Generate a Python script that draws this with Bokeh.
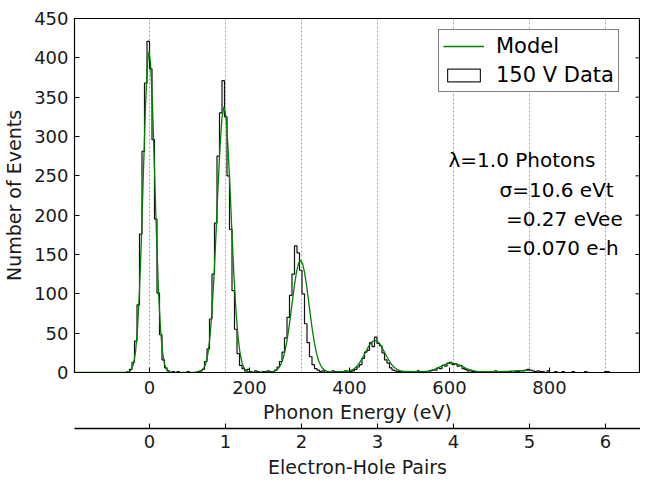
import numpy as np
from bokeh.plotting import figure
from bokeh.models import Range1d, LinearAxis, FixedTicker, Legend, LegendItem, ColumnDataSource, Title
from bokeh.embed import file_html
from bokeh.resources import INLINE
from bokeh.core.properties import value

# ---------------- data ----------------
EV_PER_EH = 152.0                      # phonon eV per electron-hole pair (150 V bias)
X_RANGE = (-150, 982)
Y_RANGE = (0, 450)
PHONON_TICKS = [0, 200, 400, 600, 800]
EH_TICKS = [0, 1, 2, 3, 4, 5, 6]
Y_TICKS = [0, 50, 100, 150, 200, 250, 300, 350, 400, 450]

# "150 V Data" histogram: 5 eV bins starting at -50 eV
HIST_START = -50.0
BIN_WIDTH = 5.0
HIST_COUNTS = [
    # -50 .. 40
    0, 1, 4, 13, 40, 86, 176, 281, 368, 421, 386, 296, 195, 101, 48, 16, 6, 2, 0,
    # 45 .. 95
    1, 0, 1, 0, 0, 0, 1, 0, 0, 0, 1,
    # 100 .. 200
    2, 4, 14, 30, 68, 125, 190, 275, 330, 371, 325, 250, 182, 104, 55, 24, 9, 5, 2, 4, 1,
    # 205 .. 240
    0, 2, 1, 0, 1, 1, 2, 1,
    # 245 .. 350
    1, 3, 7, 14, 26, 44, 70, 98, 125, 161, 152, 130, 100, 62, 38, 20, 10, 5, 3, 1, 2, 0,
    # 355 .. 395
    1, 0, 2, 1, 0, 1, 1, 2, 0,
    # 400 .. 500
    1, 2, 4, 7, 10, 18, 26, 28, 38, 33, 45, 37, 34, 25, 16, 12, 6, 3, 2, 1, 1,
    # 505 .. 545
    0, 1, 0, 0, 1, 0, 2, 0, 1,
    # 550 .. 650
    1, 0, 2, 3, 3, 6, 5, 9, 8, 12, 13, 10, 11, 8, 9, 5, 4, 2, 2, 1, 1,
    # 655 .. 730
    0, 1, 0, 0, 1, 0, 0, 2, 0, 0, 1, 0, 1, 1, 0, 1,
    # 735 .. 785
    1, 2, 2, 3, 4, 3, 2, 1, 2, 1, 1,
    # 790 .. 925
    0, 2, 0, 0, 1, 0, 0, 1, 0, 0, 0, 1, 0, 0, 0, 0, 1, 0, 0, 0, 0, 0, 0, 0, 1, 1, 0, 0,
]

# "Model" curve
MODEL_X = [
    -150, -44, -40, -36, -32, -28, -24, -20, -16, -12, -8, -4, -1, 2, 6, 10, 14, 18, 22, 26, 30, 34, 38, 42,
    50, 90,
    97, 101, 105, 109, 113, 117, 121, 125, 129, 133, 137, 141, 145, 149, 153, 157, 161, 165, 169, 173, 177,
    181, 185, 189, 193, 197, 201,
    210, 240,
    246, 250, 254, 258, 262, 266, 270, 274, 278, 282, 286, 290, 294, 298, 302, 306, 310, 314, 318, 322, 326,
    330, 334, 338, 342, 346, 350, 354, 358,
    375, 392,
    396, 401, 406, 411, 416, 421, 426, 431, 436, 441, 446, 451, 456, 461, 466, 471, 476, 481, 486, 491, 496,
    501, 506,
    525, 546,
    550, 556, 562, 568, 574, 580, 586, 592, 598, 604, 610, 616, 622, 628, 634, 640, 646, 652, 658,
    675, 700, 720, 740, 760,
]
MODEL_Y = [
    0, 0.4, 1.3, 4.0, 10.8, 25.9, 55.2, 104.2, 174.2, 258.2, 339.0, 394.4, 408, 394.4, 339.0, 258.2, 174.2,
    104.2, 55.2, 25.9, 10.8, 4.0, 1.3, 0.4,
    0.2, 0.3,
    0.35, 0.95, 2.4, 5.7, 12.4, 24.8, 45.7, 77.8, 121.8, 175.9, 234.1, 287.1, 324.5, 338, 324.5, 287.1, 234.1,
    175.9, 121.8, 77.8, 45.7, 24.8, 12.4, 5.7, 2.4, 0.95, 0.5,
    0.5, 0.9,
    1.1, 1.8, 3.1, 5.5, 9.4, 15.6, 24.6, 37.1, 52.9, 71.6, 91.7, 111.2, 127.6, 138.6, 142.5, 138.6, 127.6,
    111.2, 91.7, 71.6, 52.9, 37.1, 24.6, 15.6, 9.4, 5.5, 3.1, 1.8, 1.1,
    0.9, 1.3,
    1.6, 2.3, 3.6, 5.7, 8.8, 13.1, 18.4, 24.4, 30.6, 35.9, 39.5, 40.8, 39.5, 35.9, 30.6, 24.4, 18.4, 13.1,
    8.8, 5.7, 3.6, 2.3, 1.6,
    1.1, 1.1,
    1.3, 1.8, 2.6, 3.7, 5.1, 6.9, 8.7, 10.3, 11.4, 11.8, 11.4, 10.3, 8.7, 6.9, 5.1, 3.7, 2.6, 1.8, 1.3,
    1.0, 1.2, 1.7, 2.3, 2.6,
]

ANNOT_TEXT = ["λ=1.0 Photons", "σ=10.6 eVt", "=0.27 eVee", "=0.070 e-h"]
ANNOT_X = [598, 700, 713, 713]
ANNOT_Y = [270, 232, 195, 158]

FONT = "DejaVu Sans"

# ---------------- figure ----------------
p = figure(frame_width=566, frame_height=354, output_backend="svg", toolbar_location=None,
           x_range=Range1d(*X_RANGE), y_range=Range1d(*Y_RANGE),
           min_border_left=66, min_border_right=0, min_border_top=18, min_border_bottom=20)
p.background_fill_color = "white"
p.border_fill_color = "white"
p.outline_line_color = "black"
p.outline_line_width = 1.2

p.extra_x_ranges = {"eh": Range1d(X_RANGE[0] / EV_PER_EH, X_RANGE[1] / EV_PER_EH)}

# grid: dotted vertical lines at electron-hole pair positions
p.ygrid.visible = False
p.xgrid.ticker = FixedTicker(ticks=[n * EV_PER_EH for n in EH_TICKS])
p.xgrid.grid_line_color = "#a8a8a8"
p.xgrid.grid_line_dash = "2 2"
p.xgrid.grid_line_width = 1

# histogram as step outline
edges = HIST_START + BIN_WIDTH * np.arange(len(HIST_COUNTS) + 1)
step_x = np.concatenate([[edges[0]], edges])
step_y = np.concatenate([[0], HIST_COUNTS, [0]])
p.step(step_x, step_y, mode="after", line_color="#111111", line_width=1.2)

# legend-only patch for the data (no visible data points)
leg_patch = p.quad(left=[np.nan], right=[np.nan], top=[np.nan], bottom=[np.nan],
                   fill_color="white", line_color="#222222", line_width=1.2)

model_r = p.line(MODEL_X, MODEL_Y, line_color="#008000", line_width=1.3)

# inward tick marks on the right spine (matplotlib-style mirrored ticks)
p.ray(x=[X_RANGE[1]] * len(Y_TICKS), y=Y_TICKS, length=5, length_units="screen",
      angle=np.pi, line_color="black", line_width=1)

src = ColumnDataSource(dict(x=ANNOT_X, y=ANNOT_Y, t=ANNOT_TEXT))
p.text(x="x", y="y", text="t", source=src, text_font=value(FONT), text_font_size="20px",
       text_align="left", text_baseline="middle", text_color="black")

legend = Legend(items=[LegendItem(label="Model", renderers=[model_r]),
                       LegendItem(label="150 V Data", renderers=[leg_patch])],
                location=(364, 280))
legend.label_text_font = FONT
legend.label_text_font_size = "21px"
legend.label_text_color = "black"
legend.label_height = 20
legend.glyph_width = 41
legend.glyph_height = 16
legend.label_standoff = 12
legend.padding = 4
legend.spacing = 5
legend.margin = 0
legend.border_line_color = "black"
legend.border_line_width = 1.2
legend.background_fill_alpha = 1
p.add_layout(legend, "center")

# axes styling
def style(ax):
    ax.major_label_text_font = FONT
    ax.major_label_text_font_size = "18px"
    ax.major_label_text_color = "#1a1a1a"
    ax.axis_label_text_font = FONT
    ax.axis_label_text_font_size = "19px"
    ax.axis_label_text_font_style = "normal"
    ax.axis_label_text_color = "#1a1a1a"
    ax.major_tick_in = 5
    ax.major_tick_out = 0
    ax.minor_tick_line_color = None
    ax.minor_tick_out = 0
    ax.axis_line_color = "black"
    ax.major_tick_line_color = "black"

xa = p.xaxis[0]
style(xa)
xa.ticker = FixedTicker(ticks=PHONON_TICKS)
xa.axis_label = "Phonon Energy (eV)"
xa.major_label_standoff = 8
xa.axis_label_standoff = 4

ya = p.yaxis[0]
style(ya)
ya.ticker = FixedTicker(ticks=Y_TICKS)
ya.axis_label = "Number of Events"
ya.major_label_standoff = 6
ya.axis_label_standoff = 6

# invisible spacer between the two lower axes (hidden tick, hidden label)
spacer = LinearAxis(ticker=FixedTicker(ticks=[PHONON_TICKS[0]]))
spacer.axis_line_color = None
spacer.major_tick_line_color = None
spacer.minor_tick_line_color = None
spacer.major_tick_in = 0
spacer.major_tick_out = 3
spacer.minor_tick_out = 0
spacer.major_label_standoff = 0
spacer.major_label_text_font_size = "1px"
spacer.major_label_text_color = None
p.add_layout(spacer, "below")

eh = LinearAxis(x_range_name="eh", ticker=FixedTicker(ticks=EH_TICKS))
style(eh)
eh.axis_line_width = 1.3
eh.major_label_standoff = 6
p.add_layout(eh, "below")

eh_title = Title(text="Electron-Hole Pairs", align="center", text_font=FONT, text_font_size="19px",
                 text_font_style="normal", text_color="#1a1a1a", standoff=6, offset=0)
p.add_layout(eh_title, "below")

open("out.html", "w").write(file_html(p, INLINE))
